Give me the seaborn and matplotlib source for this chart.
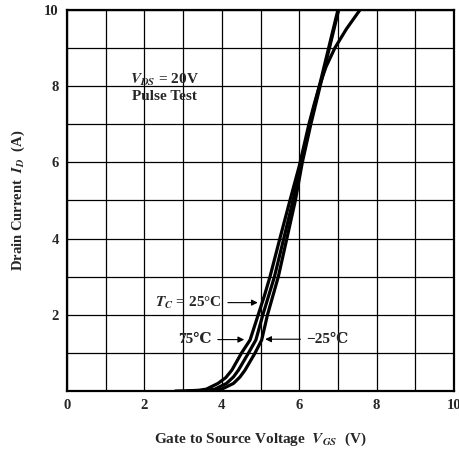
import numpy as np
import pandas as pd
import seaborn as sns
import matplotlib
matplotlib.use("Agg")
import matplotlib.pyplot as plt

# transfer curves, Vgs (V) vs Id (A)
vgs_75 = [2.8, 3.2, 3.4, 3.6, 3.9, 4.1, 4.26, 4.51, 4.73, 4.94, 5.1, 5.245, 5.5, 5.76, 6.0, 6.25, 6.38, 6.52, 6.69, 6.92, 7.22, 7.57]
id_75 = [0.0, 0.01, 0.02, 0.05, 0.2, 0.35, 0.55, 1.0, 1.34, 2.0, 2.5, 3.0, 4.0, 5.0, 5.9, 7.0, 7.5, 8.0, 8.5, 9.0, 9.5, 10.0]

vgs_25 = [3.1, 3.45, 3.6, 3.82, 4.12, 4.3, 4.43, 4.69, 4.88, 5.06, 5.21, 5.36, 5.6, 5.84, 6.05, 6.27, 6.52, 6.76, 7.0]
id_25 = [0.0, 0.01, 0.02, 0.05, 0.2, 0.37, 0.55, 1.0, 1.34, 2.0, 2.5, 3.0, 4.0, 5.0, 6.0, 7.0, 8.0, 9.0, 10.0]

vgs_m25 = [3.5, 3.75, 3.85, 4.0, 4.3, 4.47, 4.6, 4.86, 5.03, 5.18, 5.32, 5.46, 5.68, 5.9, 6.08, 6.3, 6.54, 6.78, 7.02]
id_m25 = [0.0, 0.01, 0.02, 0.05, 0.2, 0.37, 0.55, 1.0, 1.34, 2.0, 2.5, 3.0, 4.0, 5.0, 6.0, 7.0, 8.0, 9.0, 10.0]

x_ticks = [0, 2, 4, 6, 8, 10]
x_tick_labels = ["0", "2", "4", "6", "8", "10"]
y_ticks = [2, 4, 6, 8, 10]
y_tick_labels = ["2", "4", "6", "8", "10"]

sns.set_style("white")
plt.rcParams['font.family'] = ['Liberation Serif', 'DejaVu Serif', 'DejaVu Sans']
plt.rcParams['font.weight'] = 'bold'
plt.rcParams['mathtext.fontset'] = 'stix'

df = pd.concat([
    pd.DataFrame({"Vgs": vgs_75, "Id": id_75, "Tc": "75"}),
    pd.DataFrame({"Vgs": vgs_25, "Id": id_25, "Tc": "25"}),
    pd.DataFrame({"Vgs": vgs_m25, "Id": id_m25, "Tc": "-25"}),
])

fig = plt.figure(figsize=(4.6, 4.5), dpi=100)
ax = fig.add_axes([0.1457, 0.131, 0.8413, 0.847])

sns.lineplot(data=df, x="Vgs", y="Id", units="Tc", estimator=None, sort=False,
             color="black", linewidth=2.3, ax=ax, legend=False)

ax.set_xlim(0, 10)
ax.set_ylim(0, 10)
ax.set_xticks(x_ticks)
ax.set_xticklabels(x_tick_labels, fontsize=10.5, fontweight='bold')
ax.set_yticks(y_ticks)
ax.set_yticklabels(y_tick_labels, fontsize=10.5, fontweight='bold')
ax.set_xticks(np.arange(0, 11, 1), minor=True)
ax.set_yticks(np.arange(0, 11, 1), minor=True)
ax.grid(which='both', color='black', linewidth=0.9)
ax.tick_params(which='both', length=0, pad=6)
for s in ax.spines.values():
    s.set_color('black')
    s.set_linewidth(1.6)

ax.set_xlabel(r"Gate to Source Voltage  $\mathit{V_{GS}}$  (V)", fontsize=11,
              fontweight='bold', labelpad=13)
ax.set_ylabel(r"Drain Current  $\mathit{I_D}$  (A)", fontsize=10.5,
              fontweight='bold', labelpad=12)

ax.text(2.53, 8.16, r"$\mathit{V_{DS}}$ = 20V", ha='center', va='center',
        fontsize=11, fontweight='bold')
ax.text(2.53, 7.72, "Pulse Test", ha='center', va='center',
        fontsize=11, fontweight='bold')

arrow = dict(arrowstyle='-|>', color='black', lw=0.8, mutation_scale=9)
ax.annotate(r"$\mathit{T_C}$ = 25°C", xy=(5.0, 2.32), xytext=(4.0, 2.32),
            ha='right', va='center', fontsize=11, fontweight='bold', arrowprops=arrow)
ax.annotate("75℃", xy=(4.65, 1.35), xytext=(3.74, 1.35),
            ha='right', va='center', fontsize=11, fontweight='bold', arrowprops=arrow)
ax.annotate("\u221225℃", xy=(5.05, 1.36), xytext=(6.19, 1.36),
            ha='left', va='center', fontsize=11, fontweight='bold', arrowprops=arrow)

fig.savefig("out.png", dpi=100)
